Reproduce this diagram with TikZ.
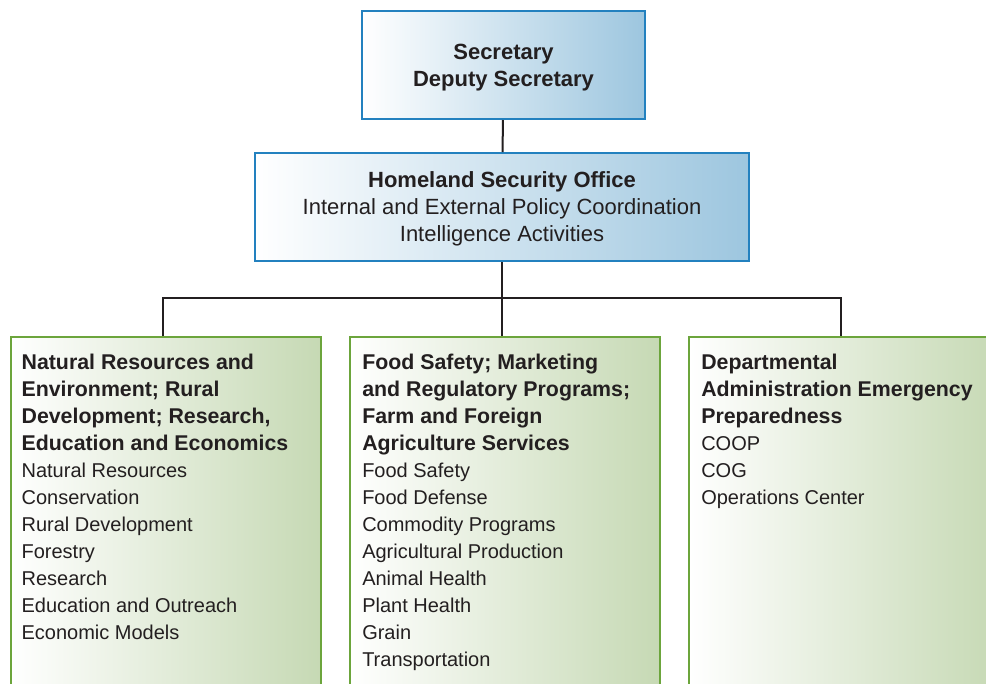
\documentclass[tikz,border=0pt]{standalone}
\usepackage{fontspec}
\setmainfont{Liberation Sans}
\usetikzlibrary{positioning}
\definecolor{hsblue}{HTML}{2381BF}
\definecolor{hsbluefill}{HTML}{9DC6DF}
\definecolor{grline}{HTML}{6CA53C}
\definecolor{grfill}{HTML}{C6D9B4}
\definecolor{ink}{HTML}{231F20}
\newcommand{\hd}[1]{{\fontsize{16}{20.25}\selectfont\bfseries #1}}
\newcommand{\hdbig}[1]{{\fontsize{16.5}{20.25}\selectfont\bfseries #1}}

\begin{document}
\begin{tikzpicture}[x=0.75pt, y=-0.75pt,
  office/.style={draw=hsblue, line width=1.5pt, left color=white, right color=hsbluefill,
    text=ink, align=center, text depth=0pt, font=\fontsize{16.5}{20.25}\selectfont},
  branch/.style={draw=grline, line width=1.5pt, left color=white, right color=grfill,
    minimum width=232.5pt, minimum height=270pt, anchor=north west},
  list/.style={align=left, inner sep=0pt, text=ink, font=\fontsize{15}{20.25}\selectfont},
  wire/.style={draw=ink, line width=1.5pt}]
\useasboundingbox (0,0) rectangle (986,683);
\clip (0,0) rectangle (986,683);
\fill[white] (0,0) rectangle (986,683);

% top of the chart
\node[office, minimum width=212pt, minimum height=81pt] (sec) at (503.5,65) {\hdbig{Secretary}\\ \hdbig{Deputy Secretary}};
\node[office, minimum width=370.5pt, minimum height=81pt] (hso) at (502,207) {\hdbig{Homeland Security Office}\\ Internal and External Policy Coordination\\ Intelligence Activities};

% the three branches
\node[branch] (nre) at (10,336) {};
\node[branch] (fsm) at (349,336) {};
\node[branch] (dae) at (688,336) {};

\node[list, below right=13.5pt and 8.5pt of nre.north west] (nreText) {\hd{Natural Resources and}\\ \hd{Environment; Rural}\\ \hd{Development; Research,}\\ \hd{Education and Economics}\\ Natural Resources\\ Conservation\\ Rural Development\\ Forestry\\ Research\\ Education and Outreach\\ Economic Models};
\node[list, below right=13.5pt and 9.75pt of fsm.north west] (fsmText) {\hd{Food Safety; Marketing}\\ \hd{and Regulatory Programs;}\\ \hd{Farm and Foreign}\\ \hd{Agriculture Services}\\ Food Safety\\ Food Defense\\ Commodity Programs\\ Agricultural Production\\ Animal Health\\ Plant Health\\ Grain\\ Transportation};
\node[list, below right=13.5pt and 9.75pt of dae.north west] (daeText) {\hd{Departmental}\\ \hd{Administration Emergency}\\ \hd{Preparedness}\\ COOP\\ COG\\ Operations Center};

% connectors
\coordinate (bus) at (502,298);
\draw[wire] (sec) -- (hso);
\draw[wire] (hso.south) -- (hso.south |- fsm.north);
\draw[wire] ([xshift=-2.25pt]nre.north) |- (bus) -| ([xshift=-2.25pt]dae.north);
\end{tikzpicture}
\end{document}
